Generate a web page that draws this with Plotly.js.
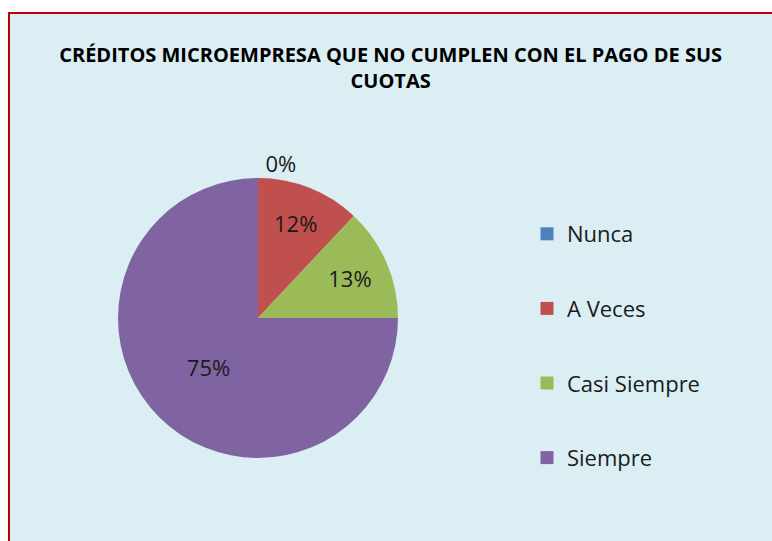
<!DOCTYPE html>
<html>
<head>
<meta charset="utf-8">
<script src="https://cdn.plot.ly/plotly-3.0.1.min.js"></script>
<style>html,body{margin:0;padding:0;background:#fff;}#chart{width:772px;height:541px;}</style>
</head>
<body>
<div id="chart"></div>
<script>
const categories = ["Nunca", "A Veces", "Casi Siempre", "Siempre"];
const values = [0, 12, 13, 75];
const colors = ["#4F81BD", "#C0504D", "#9BBB59", "#8064A2"];
const chartTitle = "CRÉDITOS MICROEMPRESA QUE NO CUMPLEN CON EL PAGO DE SUS<br>CUOTAS";

const W = 772, H = 541;
const fontFam = "Open Sans, Noto Sans, sans-serif";

const pie = {
  type: "pie",
  labels: categories,
  values: values,
  sort: false,
  direction: "clockwise",
  rotation: 0,
  marker: { colors: colors, line: { width: 0 } },
  textinfo: "percent",
  texttemplate: "%{percent:.0%}",
  textposition: ["outside", "inside", "inside", "inside"],
  insidetextorientation: "horizontal",
  textfont: { family: fontFam, size: 22, color: "#1a1a1a" },
  outsidetextfont: { family: fontFam, size: 22, color: "#1a1a1a" },
  showlegend: false,
  hoverinfo: "none",
  domain: { x: [113 / W, 403 / W], y: [(H - 458) / H, (H - 178) / H] }
};

const legendTraces = categories.map((c, i) => ({
  type: "scatter",
  x: [null], y: [null],
  mode: "markers",
  name: c,
  legendgroup: "g" + i,
  marker: { symbol: "square", size: 13, color: colors[i] },
  hoverinfo: "none",
  showlegend: true
}));

const layout = {
  width: W, height: H,
  margin: { l: 0, r: 0, t: 0, b: 0 },
  paper_bgcolor: "#ffffff",
  plot_bgcolor: "rgba(0,0,0,0)",
  xaxis: { visible: false },
  yaxis: { visible: false },
  title: {
    text: chartTitle,
    font: { family: fontFam, size: 20, color: "#000", weight: "bold" },
    x: 0.506, xanchor: "center",
    y: 1 - 62 / H, yanchor: "middle", yref: "container"
  },
  showlegend: true,
  legend: {
    x: 527 / W, xanchor: "left",
    y: (H - 213) / H, yanchor: "top",
    traceorder: "grouped",
    tracegroupgap: 43,
    bgcolor: "rgba(0,0,0,0)",
    font: { family: fontFam, size: 22, color: "#1a1a1a" },
    itemclick: false, itemdoubleclick: false
  },
  shapes: [{
    type: "rect", xref: "paper", yref: "paper", layer: "below",
    x0: 9 / W, x1: 1.02, y0: -0.02, y1: 1 - 13 / H,
    fillcolor: "#DBEEF4", line: { color: "#C00000", width: 2 }
  }]
};

Plotly.newPlot("chart", [pie, ...legendTraces], layout, { displayModeBar: false, staticPlot: true });
</script>
</body>
</html>
